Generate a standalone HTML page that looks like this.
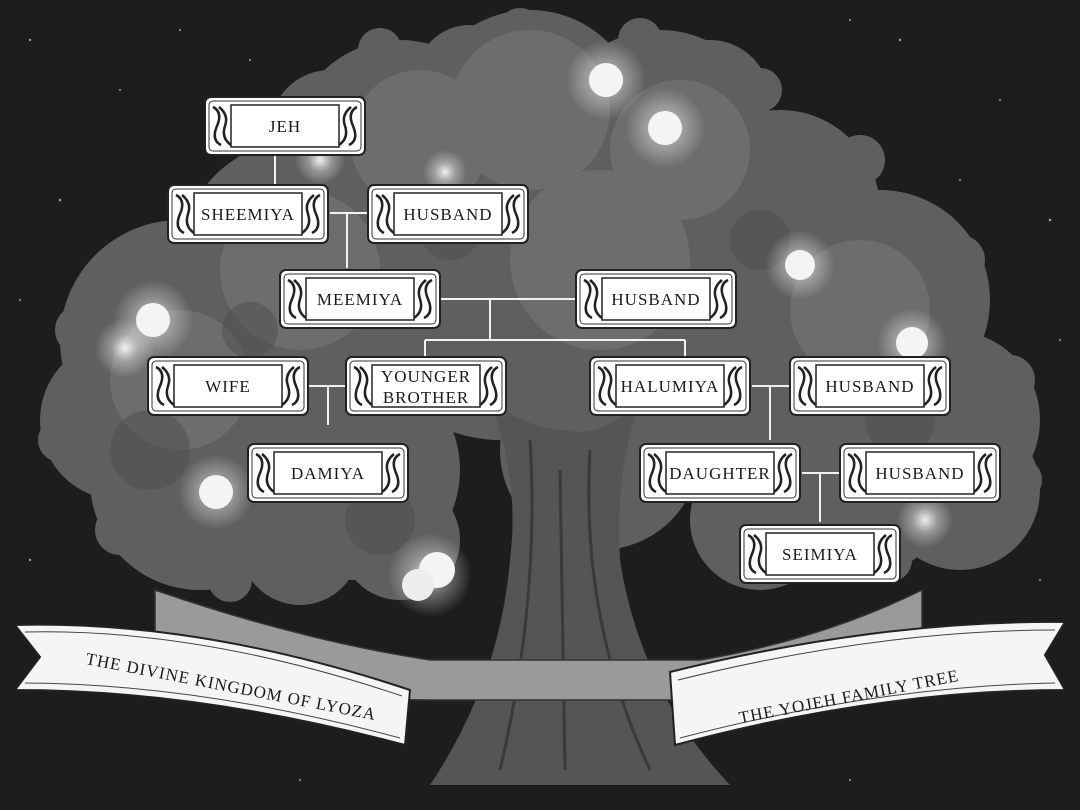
<!DOCTYPE html>
<html><head><meta charset="utf-8"><style>
html,body{margin:0;padding:0;background:#1e1c1f;}
svg{display:block}
.lbl{font-family:"Liberation Serif",serif;font-size:17px;fill:#1a1a1a;letter-spacing:1px;text-anchor:middle}
</style></head><body>
<svg width="1080" height="810" viewBox="0 0 1080 810" xmlns="http://www.w3.org/2000/svg">
<defs>
<radialGradient id="glow"><stop offset="0" stop-color="#fff" stop-opacity="0.9"/><stop offset="0.45" stop-color="#fff" stop-opacity="0.35"/><stop offset="1" stop-color="#fff" stop-opacity="0"/></radialGradient>
<g id="box">
<rect x="0" y="0" width="160" height="58" rx="6" fill="#fff" stroke="#222" stroke-width="2"/>
<rect x="4" y="4" width="152" height="50" rx="4" fill="none" stroke="#333" stroke-width="1"/>
<path d="M8 10 q10 5 4 19 q-6 14 4 19 M14 10 q10 8 6 19 q-4 12 6 19 M152 10 q-10 5 -4 19 q6 14 -4 19 M146 10 q-10 8 -6 19 q4 12 -6 19" fill="none" stroke="#222" stroke-width="2.5"/>
<rect x="26" y="8" width="108" height="42" fill="#fff" stroke="#222" stroke-width="1.5"/>
</g>
</defs>
<rect width="1080" height="810" fill="#1e1c1f"/>
<g fill="#ddd" opacity="0.7">
<circle cx="30" cy="40" r="1.2"/><circle cx="120" cy="90" r="1"/><circle cx="60" cy="200" r="1.3"/><circle cx="180" cy="30" r="1"/><circle cx="900" cy="40" r="1.2"/><circle cx="1000" cy="100" r="1"/><circle cx="1050" cy="220" r="1.3"/><circle cx="960" cy="180" r="1"/><circle cx="30" cy="560" r="1.2"/><circle cx="1040" cy="580" r="1"/><circle cx="850" cy="20" r="1"/><circle cx="250" cy="60" r="1"/><circle cx="20" cy="300" r="1"/><circle cx="1060" cy="340" r="1"/><circle cx="300" cy="780" r="1"/><circle cx="850" cy="780" r="1"/>
</g>
<!-- canopy -->
<g fill="#5f5f5f">
<circle cx="530" cy="120" r="110"/><circle cx="400" cy="150" r="110"/><circle cx="660" cy="140" r="110"/><circle cx="780" cy="210" r="100"/><circle cx="880" cy="300" r="110"/><circle cx="950" cy="420" r="90"/><circle cx="300" cy="260" r="120"/><circle cx="180" cy="340" r="120"/><circle cx="120" cy="420" r="80"/><circle cx="200" cy="480" r="110"/><circle cx="350" cy="470" r="110"/><circle cx="500" cy="300" r="140"/><circle cx="680" cy="320" r="140"/><circle cx="850" cy="470" r="110"/><circle cx="960" cy="490" r="80"/><circle cx="550" cy="70" r="55"/><circle cx="470" cy="80" r="55"/><circle cx="330" cy="130" r="60"/><circle cx="710" cy="100" r="60"/><circle cx="600" cy="450" r="100"/><circle cx="400" cy="540" r="60"/><circle cx="300" cy="545" r="60"/><circle cx="760" cy="520" r="70"/>
<!-- leafy edge bumps -->
<circle cx="520" cy="30" r="22"/><circle cx="380" cy="50" r="22"/><circle cx="640" cy="40" r="22"/><circle cx="760" cy="90" r="22"/><circle cx="860" cy="160" r="25"/><circle cx="960" cy="260" r="25"/><circle cx="1010" cy="380" r="25"/><circle cx="1020" cy="480" r="22"/><circle cx="80" cy="330" r="25"/><circle cx="60" cy="440" r="22"/><circle cx="120" cy="530" r="25"/><circle cx="230" cy="580" r="22"/><circle cx="200" cy="250" r="22"/><circle cx="290" cy="160" r="22"/><circle cx="890" cy="560" r="22"/>
</g>
<g fill="#777" opacity="0.6">
<circle cx="530" cy="110" r="80"/><circle cx="420" cy="140" r="70"/><circle cx="680" cy="150" r="70"/><circle cx="300" cy="270" r="80"/><circle cx="860" cy="310" r="70"/><circle cx="180" cy="380" r="70"/><circle cx="600" cy="260" r="90"/>
</g>
<g fill="#4e4e4e" opacity="0.5">
<circle cx="150" cy="450" r="40"/><circle cx="380" cy="520" r="35"/><circle cx="900" cy="420" r="35"/><circle cx="760" cy="240" r="30"/><circle cx="450" cy="230" r="30"/><circle cx="250" cy="330" r="28"/>
</g>
<!-- trunk -->
<path d="M490 400 Q520 480 510 560 Q500 680 430 785 L730 785 Q640 690 620 560 Q615 470 640 400 Q600 440 565 430 Q530 430 490 400Z" fill="#555"/>
<path d="M530 440 Q540 600 500 770 M590 450 Q580 620 650 770 M560 470 L565 770" stroke="#3a3a3a" stroke-width="3" fill="none"/>
<!-- lanterns -->
<g>
<circle cx="606" cy="80" r="40" fill="url(#glow)"/><circle cx="606" cy="80" r="17" fill="#f4f4f4"/>
<circle cx="665" cy="128" r="40" fill="url(#glow)"/><circle cx="665" cy="128" r="17" fill="#f4f4f4"/>
<circle cx="153" cy="320" r="40" fill="url(#glow)"/><circle cx="153" cy="320" r="17" fill="#f4f4f4"/>
<circle cx="125" cy="348" r="30" fill="url(#glow)"/>
<circle cx="800" cy="265" r="35" fill="url(#glow)"/><circle cx="800" cy="265" r="15" fill="#f4f4f4"/>
<circle cx="912" cy="343" r="35" fill="url(#glow)"/><circle cx="912" cy="343" r="16" fill="#f4f4f4"/>
<circle cx="216" cy="492" r="38" fill="url(#glow)"/><circle cx="216" cy="492" r="17" fill="#f4f4f4"/>
<circle cx="430" cy="575" r="42" fill="url(#glow)"/><circle cx="437" cy="570" r="18" fill="#f4f4f4"/><circle cx="418" cy="585" r="16" fill="#eee"/>
<circle cx="320" cy="160" r="25" fill="url(#glow)"/><circle cx="445" cy="172" r="22" fill="url(#glow)"/>
<circle cx="925" cy="520" r="28" fill="url(#glow)"/>
</g>
<!-- back ribbon -->
<path d="M155 590 Q300 640 430 660 L700 660 Q820 640 922 590 L922 680 Q820 700 700 700 L430 700 Q300 700 155 680Z" fill="#9a9a9a" stroke="#333" stroke-width="1.5"/>
<!-- left banner -->
<path d="M15 625 Q200 620 410 690 L405 745 Q200 690 15 690 L40 657Z" fill="#f5f5f5" stroke="#222" stroke-width="2"/>
<path d="M25 632 Q200 628 402 696 M25 683 Q200 684 400 738" stroke="#444" stroke-width="1" fill="none"/>
<text transform="translate(230,692) rotate(11)" class="lbl" font-size="21">THE DIVINE KINGDOM OF LYOZA</text>
<!-- right banner -->
<path d="M670 672 Q880 620 1065 622 L1045 655 L1065 690 Q880 690 675 745Z" fill="#f5f5f5" stroke="#222" stroke-width="2"/>
<path d="M678 680 Q880 630 1055 630 M680 738 Q880 686 1055 683" stroke="#444" stroke-width="1" fill="none"/>
<text transform="translate(850,702) rotate(-11)" class="lbl" font-size="21">THE YOJEH FAMILY TREE</text>
<!-- connectors -->
<g stroke="#f2f2f2" stroke-width="2" fill="none">
<path d="M275 155 V185"/>
<path d="M330 213 H368 M347 213 V268"/>
<path d="M440 299 H575 M490 299 V340 M425 340 H685 M425 340 V357 M685 340 V357"/>
<path d="M308 386 H346 M328 386 V425"/>
<path d="M752 386 H790 M770 386 V440"/>
<path d="M802 473 H840 M820 473 V522"/>
</g>
<!-- boxes -->
<use href="#box" x="205" y="97"/><text class="lbl" x="285" y="132">JEH</text>
<use href="#box" x="168" y="185"/><text class="lbl" x="248" y="220">SHEEMIYA</text>
<use href="#box" x="368" y="185"/><text class="lbl" x="448" y="220">HUSBAND</text>
<use href="#box" x="280" y="270"/><text class="lbl" x="360" y="305">MEEMIYA</text>
<use href="#box" x="576" y="270"/><text class="lbl" x="656" y="305">HUSBAND</text>
<use href="#box" x="148" y="357"/><text class="lbl" x="228" y="392">WIFE</text>
<use href="#box" x="346" y="357"/><text class="lbl" x="426" y="382">YOUNGER</text><text class="lbl" x="426" y="403">BROTHER</text>
<use href="#box" x="590" y="357"/><text class="lbl" x="670" y="392">HALUMIYA</text>
<use href="#box" x="790" y="357"/><text class="lbl" x="870" y="392">HUSBAND</text>
<use href="#box" x="248" y="444"/><text class="lbl" x="328" y="479">DAMIYA</text>
<use href="#box" x="640" y="444"/><text class="lbl" x="720" y="479">DAUGHTER</text>
<use href="#box" x="840" y="444"/><text class="lbl" x="920" y="479">HUSBAND</text>
<use href="#box" x="740" y="525"/><text class="lbl" x="820" y="560">SEIMIYA</text>
</svg>
</body></html>
